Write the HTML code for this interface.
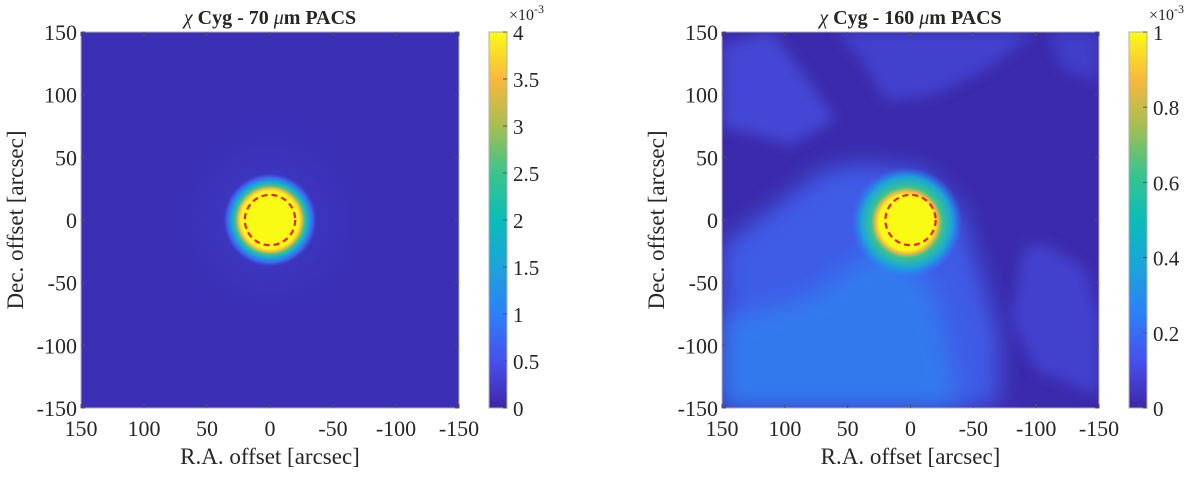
<!DOCTYPE html>
<html><head><meta charset="utf-8"><style>
html,body{margin:0;padding:0;background:#fff;}
svg text{font-family:"Liberation Serif",serif;fill:#262626;}
</style></head><body>
<svg id="fig" width="1200" height="477" viewBox="0 0 1200 477" xmlns="http://www.w3.org/2000/svg">
<defs>
<linearGradient id="parula" x1="0" y1="1" x2="0" y2="0">
<stop offset="0" stop-color="#3e26a8"/><stop offset="0.125" stop-color="#4751ed"/>
<stop offset="0.25" stop-color="#2c80f8"/><stop offset="0.375" stop-color="#1ba4da"/>
<stop offset="0.5" stop-color="#0bbcb8"/><stop offset="0.625" stop-color="#3ac48d"/>
<stop offset="0.75" stop-color="#a5be50"/><stop offset="0.875" stop-color="#f9b83e"/>
<stop offset="1" stop-color="#f9fb15"/></linearGradient>
<radialGradient id="src70">
<stop offset="0" stop-color="#f9fb15"/><stop offset="0.6" stop-color="#f9fb15"/>
<stop offset="0.66" stop-color="#f9b83e"/><stop offset="0.72" stop-color="#3ac48d"/>
<stop offset="0.8" stop-color="#1ba4da"/><stop offset="0.9" stop-color="#3f5ff0"/>
<stop offset="1" stop-color="#3a2fb5" stop-opacity="0"/></radialGradient>
<radialGradient id="halo70">
<stop offset="0" stop-color="#4650e0" stop-opacity="0.55"/><stop offset="1" stop-color="#3a2fb5" stop-opacity="0"/></radialGradient>
<radialGradient id="src160">
<stop offset="0" stop-color="#f9fb15"/><stop offset="0.5" stop-color="#f9fb15"/>
<stop offset="0.56" stop-color="#f9b83e"/><stop offset="0.64" stop-color="#3ac48d"/>
<stop offset="0.82" stop-color="#1ba4da"/><stop offset="1" stop-color="#2c80f8" stop-opacity="0"/></radialGradient>
<filter id="blur" x="-20%" y="-20%" width="140%" height="140%"><feGaussianBlur stdDeviation="12"/></filter>
<filter id="blur2" x="-20%" y="-20%" width="140%" height="140%"><feGaussianBlur stdDeviation="7"/></filter>
<clipPath id="clipL"><rect x="81" y="32" width="378" height="376"/></clipPath>
<clipPath id="clipR"><rect x="722" y="32" width="377" height="376"/></clipPath>
</defs>
<g id="root"></g>
</svg>
<script>
const xTicks = [150, 100, 50, 0, -50, -100, -150];
const yTicks = [150, 100, 50, 0, -50, -100, -150];
const cbTicksL = [0, 0.5, 1, 1.5, 2, 2.5, 3, 3.5, 4];
const cbTicksR = [0, 0.2, 0.4, 0.6, 0.8, 1];
const apertureRadius = 20;
const sourceRadius70 = 38;
const sourceRadius160 = 44;
// diffuse 160um emission regions (arcsec polygons)
const cloudMain = [[150,-20],[110,10],[70,40],[40,45],[-10,40],[-40,10],[-55,-40],[-70,-90],[-70,-150],[150,-150]];
const cloudBright = [[150,-80],[80,-60],[40,-30],[10,-20],[-20,-60],[-40,-150],[150,-150]];
const cloudTopLeft = [[150,140],[110,150],[80,110],[60,80],[95,60],[150,75]];
const cloudTop = [[60,150],[40,130],[20,95],[-20,100],[-60,120],[-100,150]];
const cloudTopRight = [[-110,150],[-150,150],[-150,110],[-120,120]];
const cloudRight = [[-90,-20],[-110,-20],[-140,-40],[-150,-80],[-150,-140],[-100,-120],[-80,-80]];

const NS="http://www.w3.org/2000/svg";
const root=document.getElementById('root');
function mk(tag,attrs,parent){const e=document.createElementNS(NS,tag);for(const k in attrs)e.setAttribute(k,attrs[k]);(parent||root).appendChild(e);return e;}
function txt(s,attrs,parent){const e=mk('text',attrs,parent);e.textContent=s;return e;}

function panel(P){
  const sx=v=>P.x0+(150-v)/300*P.w;
  const sy=v=>P.y0+(150-v)/300*P.h;
  const k=P.w/300;
  const g=mk('g',{});
  
  
  const img=mk('g',{'clip-path':P.clip},g);
  
  
  mk('rect',{x:P.x0,y:P.y0,width:P.w,height:P.h,fill:P.bg},img);
  const poly=(pts,fill,op,f)=>mk('polygon',{points:pts.map(q=>sx(q[0])+','+sy(q[1])).join(' '),fill:fill,opacity:op,filter:f},img);
  if(P.name==='pacs70'){
    mk('circle',{cx:sx(0),cy:sy(0),r:90*k,fill:'url(#halo70)'},img);
    const s=mk('circle',{cx:sx(0),cy:sy(0),r:sourceRadius70*k,fill:'url(#src70)'},img);
    
    
  } else {
    let c;
    c=poly(cloudMain,'#3f62ee',0.9,'url(#blur)');
    c=poly(cloudBright,'#2f86f2',0.7,'url(#blur)');
    c=poly(cloudTopLeft,'#4650e0',0.8,'url(#blur2)');
    c=poly(cloudTop,'#4548da',0.75,'url(#blur2)');
    c=poly(cloudTopRight,'#4548da',0.65,'url(#blur2)');
    c=poly(cloudRight,'#4548da',0.75,'url(#blur2)');
    const s=mk('circle',{cx:sx(3),cy:sy(-2),r:sourceRadius160*k,fill:'url(#src160)'},img);
    
    
  }
  const ap=mk('circle',{cx:sx(0),cy:sy(0),r:apertureRadius*k,fill:'none',stroke:'#ee1c25','stroke-width':2.2,'stroke-dasharray':'6 4'},g);
  
  
  const frame=mk('rect',{x:P.x0,y:P.y0,width:P.w,height:P.h,fill:'none',stroke:'#b0b0b0','stroke-width':1},g);
  
  
  xTicks.forEach(v=>{
    mk('line',{x1:sx(v),x2:sx(v),y1:P.y0+P.h,y2:P.y0+P.h-4,stroke:'#555'},g);
    mk('line',{x1:sx(v),x2:sx(v),y1:P.y0,y2:P.y0+4,stroke:'#555'},g);
    const t=txt(String(v),{x:sx(v),y:P.y0+P.h+28,'font-size':22,'text-anchor':'middle'},g);
    
    
  });
  yTicks.forEach(v=>{
    mk('line',{x1:P.x0,x2:P.x0+4,y1:sy(v),y2:sy(v),stroke:'#555'},g);
    mk('line',{x1:P.x0+P.w,x2:P.x0+P.w-4,y1:sy(v),y2:sy(v),stroke:'#555'},g);
    const t=txt(String(v),{x:P.x0-4,y:sy(v)+8,'font-size':22,'text-anchor':'end'},g);
    
    
  });
  const xt=txt('R.A. offset [arcsec]',{x:P.x0+P.w/2,y:464,'font-size':23,'text-anchor':'middle'},g);
  
  
  const yt=txt('Dec. offset [arcsec]',{x:0,y:0,'font-size':23,'text-anchor':'middle',transform:`translate(${P.x0-58},${P.y0+P.h/2}) rotate(-90)`},g);
  
  
  const ti=mk('text',{x:P.x0+P.w/2,y:24,'font-size':20,'font-weight':'bold','text-anchor':'middle'},g);
  
  
  ti.innerHTML=`<tspan font-style="italic" font-weight="normal">χ</tspan> Cyg - ${P.band} <tspan font-style="italic" font-weight="normal">μ</tspan>m PACS`;
  const cb=mk('g',{},g);
  
  
  mk('rect',{x:P.cx,y:P.y0,width:18,height:P.h,fill:'url(#parula)',stroke:'#b0b0b0'},cb);
  const max=P.cb[P.cb.length-1];
  P.cb.forEach(v=>{
    const y=P.y0+P.h-(v/max)*P.h;
    mk('line',{x1:P.cx+18,x2:P.cx+14,y1:y,y2:y,stroke:'#555'},cb);
    const t=txt(String(v),{x:P.cx+24,y:y+8,'font-size':21},cb);
    
    
  });
  const ex=mk('text',{x:P.cx+20,y:20,'font-size':16},cb);
  ex.innerHTML='×10<tspan dy="-7" font-size="12">-3</tspan>';
  
  
}
panel({name:'pacs70',band:'70',x0:81,y0:32,w:378,h:376,cx:489,clip:'url(#clipL)',bg:'#3a2fb5',cb:cbTicksL});
panel({name:'pacs160',band:'160',x0:722,y0:32,w:377,h:376,cx:1129,clip:'url(#clipR)',bg:'#3b2aab',cb:cbTicksR});
</script>
</body></html>
